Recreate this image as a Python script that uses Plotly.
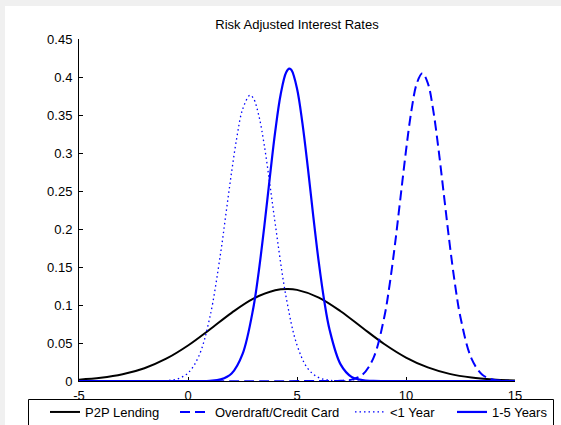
import plotly.graph_objects as go

# ---- data ----
p2p_x = [-5, -4, -3, -2, -1, 0, 1, 2, 3, 4, 4.55, 5, 6, 7, 8, 9, 10, 11, 12, 13, 14, 15]
p2p_y = [0.0018, 0.0042, 0.0088, 0.0168, 0.0293, 0.0467, 0.0678, 0.0897, 0.1083, 0.1193, 0.121,
         0.1199, 0.1098, 0.0918, 0.0700, 0.0487, 0.0309, 0.0179, 0.0094, 0.0045, 0.0020, 0.0008]

od_x = [-5, 6.5, 7.0, 7.5, 8.0, 8.5, 9.0, 9.25, 9.5, 9.75, 10.0, 10.25, 10.5, 10.75, 11.0, 11.25,
        11.5, 11.75, 12.0, 12.25, 12.5, 13.0, 13.5, 14.0, 14.5, 15]
od_y = [0, 0, 0.0003, 0.0018, 0.0082, 0.0298, 0.0836, 0.127, 0.181, 0.242, 0.303, 0.356, 0.392, 0.405,
        0.392, 0.356, 0.303, 0.242, 0.181, 0.127, 0.0836, 0.0298, 0.0082, 0.0018, 0.0003, 0]

lt1_x = [-5, -1.5, -1.0, -0.5, 0.0, 0.5, 1.0, 1.5, 1.75, 2.0, 2.25, 2.5, 2.84, 3.0, 3.25, 3.5, 3.75,
         4.0, 4.5, 5.0, 5.5, 6.0, 6.5, 7.0, 15]
lt1_y = [0, 0, 0.0005, 0.0026, 0.0105, 0.033, 0.0835, 0.169, 0.222, 0.275, 0.322, 0.357, 0.376, 0.372,
         0.349, 0.310, 0.260, 0.207, 0.1105, 0.0473, 0.0162, 0.0044, 0.0010, 0.0002, 0]

y15_x = [-5, 0.5, 1.0, 1.5, 2.0, 2.5, 3.0, 3.25, 3.5, 3.75, 4.0, 4.25, 4.5, 4.65, 4.75, 5.0, 5.25,
         5.5, 5.75, 6.0, 6.25, 6.5, 7.0, 7.5, 8.0, 8.5, 15]
y15_y = [0, 0, 0.0003, 0.0021, 0.0099, 0.0353, 0.0967, 0.145, 0.2035, 0.267, 0.328, 0.377, 0.406, 0.411,
         0.409, 0.385, 0.339, 0.280, 0.216, 0.156, 0.1055, 0.0668, 0.0219, 0.0055, 0.0011, 0.0002, 0]

x_ticks = [-5, 0, 5, 10, 15]
x_tick_text = ["-5", "0", "5", "10", "15"]
y_ticks = [0, 0.05, 0.1, 0.15, 0.2, 0.25, 0.3, 0.35, 0.4, 0.45]
y_tick_text = ["0", "0.05", "0.1", "0.15", "0.2", "0.25", "0.3", "0.35", "0.4", "0.45"]

FONT = "Liberation Sans, Arial, sans-serif"
W, H = 561, 425
L, R, T, B = 79, 46, 39, 44
PW, PH = W - L - R, H - T - B


def px_x(p):
    return (p - L) / PW


def px_y(p):
    return (H - B - p) / PH


fig = go.Figure()
fig.add_trace(go.Scatter(x=p2p_x, y=p2p_y, mode="lines", name="P2P Lending", showlegend=True,
                         line=dict(color="black", width=2, shape="spline"), legend="legend"))
fig.add_trace(go.Scatter(x=od_x, y=od_y, mode="lines", name="Overdraft/Credit Card", showlegend=True,
                         line=dict(color="#0000ff", width=2, dash="10px,5px", shape="spline"), legend="legend2"))
fig.add_trace(go.Scatter(x=lt1_x, y=lt1_y, mode="lines", name="<1 Year", showlegend=True,
                         line=dict(color="#0000ff", width=1.3, dash="1.5px,3px", shape="spline"), legend="legend3"))
fig.add_trace(go.Scatter(x=y15_x, y=y15_y, mode="lines", name="1-5 Years", showlegend=True,
                         line=dict(color="#0000ff", width=2.2, shape="spline"), legend="legend4"))

leg_common = dict(orientation="h", xanchor="left", yanchor="top", bgcolor="rgba(0,0,0,0)",
                  xref="container", yref="container",
                  borderwidth=0, font=dict(family=FONT, size=13, color="black"))
leg_y = 1 - 397 / H

fig.update_layout(
    width=W, height=H,
    showlegend=True,
    margin=dict(l=L, r=R, t=T, b=B, autoexpand=False),
    paper_bgcolor="#f0f0f0",
    plot_bgcolor="white",
    title=dict(text="Risk Adjusted Interest Rates", x=0.5, xref="paper", xanchor="center",
               y=1 - 24 / H, yref="container", yanchor="middle",
               font=dict(family=FONT, size=13, color="black")),
    xaxis=dict(range=[-5, 15], tickvals=x_ticks, ticktext=x_tick_text, ticks="inside", ticklen=4,
               tickcolor="black", showline=True, linecolor="black", linewidth=1, showgrid=False,
               zeroline=False, ticklabelstandoff=2, automargin=False,
               layer="below traces", tickfont=dict(family=FONT, size=13, color="black")),
    yaxis=dict(range=[0, 0.45], tickvals=y_ticks, ticktext=y_tick_text, ticks="inside", ticklen=4,
               tickcolor="black", showline=True, linecolor="black", linewidth=1, showgrid=False,
               zeroline=False, layer="below traces", automargin=False, ticklabelstandoff=3,
               tickfont=dict(family=FONT, size=13, color="black")),
    legend=dict(x=45 / W, y=leg_y, **leg_common),
    legend2=dict(x=175 / W, y=leg_y, **leg_common),
    legend3=dict(x=350 / W, y=leg_y, **leg_common),
    legend4=dict(x=452 / W, y=leg_y, **leg_common),
    shapes=[
        dict(type="rect", xref="paper", yref="paper", x0=px_x(5), x1=px_x(575), y0=px_y(6), y1=px_y(440),
             fillcolor="white", line=dict(width=0), layer="below"),
        dict(type="rect", xref="paper", yref="paper", x0=px_x(28.5), x1=px_x(553.5), y0=px_y(399.5), y1=px_y(440),
             fillcolor="rgba(0,0,0,0)", line=dict(color="black", width=1), layer="below"),
    ],
)

fig.write_html("out.html", config={"displayModeBar": False},
               post_script="document.body.style.margin='0px';document.body.style.overflow='hidden';")
